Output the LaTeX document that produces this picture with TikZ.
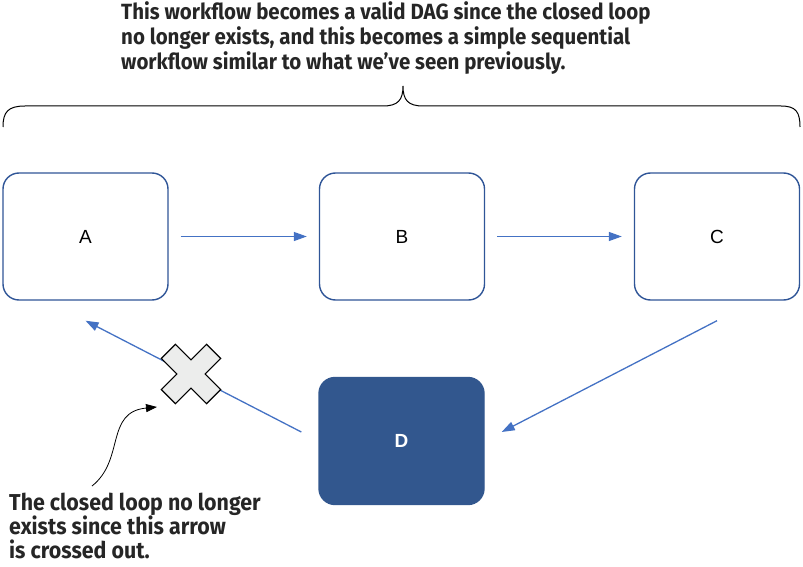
\documentclass[tikz,border=0pt]{standalone}
\usepackage{fontspec}
\setmainfont{Liberation Sans}
\newfontfamily\notefont[FakeStretch=0.93]{Fira Sans}
\usetikzlibrary{arrows.meta}
\definecolor{boxblue}{RGB}{47,85,151}
\definecolor{arrowblue}{RGB}{68,114,196}
\definecolor{dfill}{RGB}{50,87,142}
\definecolor{crossgray}{RGB}{236,237,236}
\tikzset{
  stepbox/.style={draw=boxblue, line width=1.4pt, rounded corners=16pt, minimum width=165pt, minimum height=127pt, inner sep=0pt, font=\fontsize{19}{22}\selectfont},
  flow/.style={draw=arrowblue, line width=1.3pt, -{Triangle[length=13pt,width=9pt]}},
  note/.style={font=\notefont\bfseries\fontsize{22}{25}\selectfont, align=left, inner sep=0pt, anchor=north west, text=black!85}
}
\begin{document}
\begin{tikzpicture}[x=1pt,y=-1pt]
\useasboundingbox (0,0) rectangle (803,567);
% boxes
\node[stepbox] (A) at (85.5,236.5) {A};
\node[stepbox] (B) at (402,236.5) {B};
\node[stepbox] (C) at (717,236.5) {C};
\node[stepbox, fill=dfill, draw=dfill, text=white, font=\bfseries\fontsize{19}{22}\selectfont] (D) at (401.5,441) {D};
% connectors
\draw[flow] ([xshift=12pt]A.east) -- ([xshift=-12pt]B.west);
\draw[flow] ([xshift=12pt]B.east) -- ([xshift=-12pt]C.west);
\draw[flow] ([yshift=-20pt]C.south) -- ([xshift=17pt,yshift=9pt]D.east);
\draw[flow] ([xshift=-17pt,yshift=9pt]D.west) -- ([yshift=-20pt]A.south);
% cross
\begin{scope}[shift={(191,374)}, rotate=45]
\draw[fill=crossgray, line width=1.2pt, line join=miter]
 (-10,-32) -- (10,-32) -- (10,-10) -- (32,-10) -- (32,10) -- (10,10) -- (10,32) -- (-10,32) -- (-10,10) -- (-32,10) -- (-32,-10) -- (-10,-10) -- cycle;
\end{scope}
% brace
\draw[line width=1pt] (3,127) .. controls (3,112) and (8,106) .. (25,106) -- (383,106)
  .. controls (398,106) and (403,100) .. (403,86)
  .. controls (403,100) and (408,106) .. (423,106) -- (781,106)
  .. controls (796,106) and (800,112) .. (800,127);
% notes
\node[note] (top) at (121,1) {This workflow becomes a valid DAG since the closed loop\\no longer exists, and this becomes a simple sequential\\workflow similar to what we’ve seen previously.};
\node[note, font=\notefont\bfseries\fontsize{23}{24}\selectfont] (bottom) at (9,493) {The closed loop no longer\\exists since this arrow\\is crossed out.};
\coordinate (tip) at (157,407);
\draw[line width=0.8pt, -{Triangle[length=11pt,width=8pt]}] (92,486) .. controls (125,460) and (105,412) .. (tip);
\end{tikzpicture}
\end{document}
